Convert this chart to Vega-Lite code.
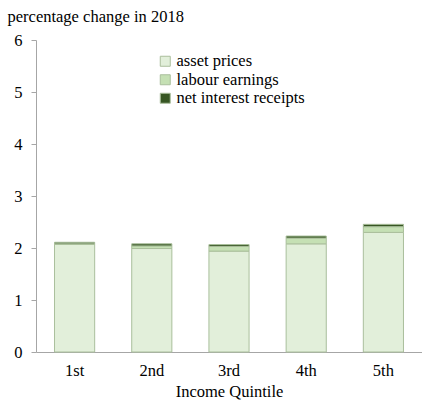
{
  "$schema": "https://vega.github.io/schema/vega-lite/v6.json",
  "autosize": "none",
  "width": 386,
  "height": 312,
  "padding": {"left": 36, "top": 40, "right": 0, "bottom": 52},
  "background": "white",
  "config": {
    "view": {"stroke": null},
    "font": "Liberation Serif",
    "axis": {"grid": false, "domainColor": "#a6a6a6", "tickColor": "#a6a6a6", "labelColor": "#000000", "titleColor": "#000000", "labelFont": "Liberation Serif", "titleFont": "Liberation Serif", "labelFontSize": 16.5, "titleFontSize": 16.5, "titleFontWeight": "normal"}
  },
  "data": {
    "values": [
      {"q": "1st", "c": "asset prices", "o": 1, "v": 2.07},
      {"q": "1st", "c": "labour earnings", "o": 2, "v": 0.01},
      {"q": "1st", "c": "net interest receipts", "o": 3, "v": 0.03},
      {"q": "2nd", "c": "asset prices", "o": 1, "v": 1.99},
      {"q": "2nd", "c": "labour earnings", "o": 2, "v": 0.05},
      {"q": "2nd", "c": "net interest receipts", "o": 3, "v": 0.04},
      {"q": "3rd", "c": "asset prices", "o": 1, "v": 1.94},
      {"q": "3rd", "c": "labour earnings", "o": 2, "v": 0.09},
      {"q": "3rd", "c": "net interest receipts", "o": 3, "v": 0.035},
      {"q": "4th", "c": "asset prices", "o": 1, "v": 2.08},
      {"q": "4th", "c": "labour earnings", "o": 2, "v": 0.11},
      {"q": "4th", "c": "net interest receipts", "o": 3, "v": 0.04},
      {"q": "5th", "c": "asset prices", "o": 1, "v": 2.3},
      {"q": "5th", "c": "labour earnings", "o": 2, "v": 0.11},
      {"q": "5th", "c": "net interest receipts", "o": 3, "v": 0.045}
    ]
  },
  "mark": {"type": "bar", "stroke": "#aabf9c", "strokeWidth": 1},
  "encoding": {
    "x": {
      "field": "q", "type": "nominal", "sort": ["1st", "2nd", "3rd", "4th", "5th"],
      "scale": {"paddingInner": 0.48, "paddingOuter": 0.24},
      "axis": {"title": "Income Quintile", "labelAngle": 0, "ticks": false, "labelPadding": 10, "titlePadding": 5}
    },
    "y": {
      "field": "v", "type": "quantitative", "stack": "zero",
      "scale": {"domain": [0, 6], "nice": false},
      "axis": {"values": [0, 1, 2, 3, 4, 5, 6], "tickSize": 5, "labelPadding": 9, "title": "percentage change in 2018", "titleAngle": 0, "titleAlign": "left", "titleBaseline": "alphabetic", "titleX": -29, "titleY": -19}
    },
    "color": {
      "field": "c", "type": "nominal",
      "scale": {"domain": ["asset prices", "labour earnings", "net interest receipts"], "range": ["#e2efda", "#c5e0b4", "#375623"]},
      "legend": {"title": null, "orient": "none", "legendX": 121, "legendY": 13, "symbolType": "square", "symbolSize": 100, "symbolStrokeColor": "#aabf9c", "symbolStrokeWidth": 1, "labelFontSize": 16.5, "labelFont": "Liberation Serif", "labelColor": "#000000", "labelOffset": 3, "rowPadding": 1.5, "padding": 0}
    },
    "order": {"field": "o", "type": "quantitative"}
  }
}
